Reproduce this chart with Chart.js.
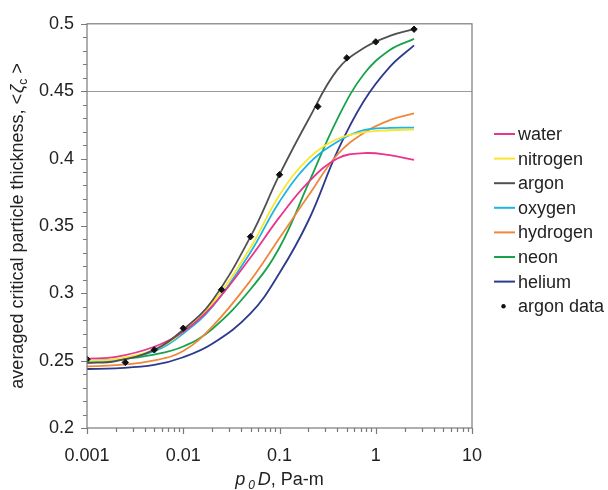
<!DOCTYPE html>
<html>
<head>
<meta charset="utf-8">
<script src="https://cdn.jsdelivr.net/npm/chart.js@4/dist/chart.umd.min.js"></script>
<style>
  body { margin: 0; background: #fff; }
  #wrap { width: 608px; height: 490px; position: relative; }
</style>
</head>
<body>
<div id="wrap"><canvas id="critChart"></canvas></div>
<script>
var xGrid = [0.001, 0.002, 0.005, 0.01, 0.02, 0.05, 0.1, 0.2, 0.4, 0.75, 1.4, 2.5];

var water    = [0.2515, 0.2528, 0.2603, 0.2715, 0.2905, 0.3265, 0.3565, 0.3825, 0.4, 0.404, 0.4025, 0.399];
var nitrogen = [0.250, 0.2512, 0.258, 0.2715, 0.2925, 0.334, 0.373, 0.400, 0.4145, 0.4195, 0.421, 0.4215];
var argon    = [0.2482, 0.2497, 0.258, 0.273, 0.2945, 0.342, 0.388, 0.429, 0.466, 0.482, 0.491, 0.496];
var oxygen   = [0.249, 0.2502, 0.257, 0.2702, 0.2898, 0.3305, 0.368, 0.396, 0.4125, 0.421, 0.4228, 0.423];
var hydrogen = [0.2458, 0.2466, 0.2502, 0.2572, 0.2752, 0.3095, 0.341, 0.3725, 0.403, 0.419, 0.4285, 0.4335];
var neon     = [0.2497, 0.2507, 0.2545, 0.2605, 0.2735, 0.303, 0.334, 0.3815, 0.4295, 0.4625, 0.4805, 0.4888];
var helium   = [0.2438, 0.2443, 0.2468, 0.2525, 0.2625, 0.2850, 0.315, 0.354, 0.4055, 0.4425, 0.468, 0.484];

var argonDataX = [0.001, 0.0025, 0.005, 0.01, 0.025, 0.05, 0.1, 0.25, 0.5, 1, 2.5];
var argonDataY = [0.251, 0.2487, 0.258, 0.274, 0.3027, 0.342, 0.388, 0.4386, 0.4747, 0.4866, 0.496];

var seriesNames  = ['water', 'nitrogen', 'argon', 'oxygen', 'hydrogen', 'neon', 'helium'];
var seriesValues = [water, nitrogen, argon, oxygen, hydrogen, neon, helium];
var seriesColors = ['#e8368c', '#fbe62e', '#505050', '#1db4e6', '#f0883c', '#17a24c', '#2c3a8e'];

var xTickValues = [0.001, 0.01, 0.1, 1, 10];
var xTickLabels = ['0.001', '0.01', '0.1', '1', '10'];
var yTickValues = [0.2, 0.25, 0.3, 0.35, 0.4, 0.45, 0.5];
var yTickLabels = ['0.2', '0.25', '0.3', '0.35', '0.4', '0.45', '0.5'];
var refLevel = 0.45;

var FONT = '"Liberation Sans", Arial, Helvetica, sans-serif';

function toPoints(xs, ys) {
  return xs.map(function(x, i) { return { x: x, y: ys[i] }; });
}

var datasets = seriesNames.map(function(name, i) {
  return {
    label: name,
    data: toPoints(xGrid, seriesValues[i]),
    borderColor: seriesColors[i],
    backgroundColor: seriesColors[i],
    borderWidth: 1.8,
    pointRadius: 0,
    tension: 0.4,
    fill: false,
    order: name === 'argon' ? 1 : 2
  };
});
datasets.push({
  label: 'argon data',
  data: toPoints(argonDataX, argonDataY),
  showLine: false,
  pointStyle: 'rectRot',
  pointRadius: 3.2,
  pointBackgroundColor: '#111',
  pointBorderColor: '#111',
  borderColor: '#111',
  backgroundColor: '#111',
  order: 0
});

var decor = {
  id: 'decor',
  beforeDatasetsDraw: function(chart) {
    var ctx = chart.ctx, a = chart.chartArea, ys = chart.scales.y;
    ctx.save();
    var yr = Math.round(ys.getPixelForValue(refLevel)) + 0.5;
    ctx.strokeStyle = '#9a9a9a';
    ctx.lineWidth = 1.2;
    ctx.beginPath();
    ctx.moveTo(a.left, yr);
    ctx.lineTo(a.right, yr);
    ctx.stroke();
    ctx.restore();
  },
  afterDraw: function(chart) {
    var ctx = chart.ctx, a = chart.chartArea;
    var xs = chart.scales.x, ys = chart.scales.y;
    ctx.save();
    // frame
    ctx.strokeStyle = '#7a7a7a';
    ctx.lineWidth = 1.2;
    ctx.strokeRect(a.left, a.top, a.right - a.left, a.bottom - a.top);

    // tick marks
    ctx.beginPath();
    var d, k, v, p;
    for (d = -3; d < 1; d++) {
      for (k = 1; k <= 9; k++) {
        v = k * Math.pow(10, d);
        p = Math.round(xs.getPixelForValue(v)) + 0.5;
        ctx.moveTo(p, a.bottom);
        ctx.lineTo(p, a.bottom + (k === 1 ? 6 : 4));
      }
    }
    p = Math.round(xs.getPixelForValue(10)) + 0.5;
    ctx.moveTo(p, a.bottom);
    ctx.lineTo(p, a.bottom + 6);
    for (k = 0; k <= 30; k++) {
      v = 0.2 + k * 0.01;
      p = Math.round(ys.getPixelForValue(v)) + 0.5;
      ctx.moveTo(a.left, p);
      ctx.lineTo(a.left - (k % 5 === 0 ? 6 : 4), p);
    }
    ctx.stroke();

    // x title: p0D, Pa-m
    var parts = [
      { t: 'p', f: 'italic 18px ' + FONT, dy: 0, gap: 3 },
      { t: '0', f: 'italic 12px ' + FONT, dy: 4, gap: 3 },
      { t: 'D', f: 'italic 18px ' + FONT, dy: 0, gap: 0 },
      { t: ', Pa-m', f: '18px ' + FONT, dy: 0, gap: 0 }
    ];
    drawParts(ctx, parts, (a.left + a.right) / 2, 485);

    // y title, rotated
    ctx.save();
    ctx.translate(23, (a.top + a.bottom) / 2);
    ctx.rotate(-Math.PI / 2);
    var yparts = [
      { t: 'averaged critical particle thickness, <', f: '18px ' + FONT, dy: 0, gap: 1 },
      { t: '\u03B6', f: 'italic 18px ' + FONT, dy: 0, gap: 0 },
      { t: 'c', f: '12px ' + FONT, dy: 4, gap: 0 },
      { t: ' >', f: '18px ' + FONT, dy: 0, gap: 0 }
    ];
    drawParts(ctx, yparts, 0, 0);
    ctx.restore();

    // legend
    var lx = 494, ly = 134, step = 24.6;
    ctx.font = '18px ' + FONT;
    ctx.textBaseline = 'middle';
    ctx.textAlign = 'left';
    chart.data.datasets.forEach(function(ds, i) {
      var yy = ly + i * step;
      if (ds.showLine === false) {
        ctx.fillStyle = ds.pointBackgroundColor;
        ctx.beginPath();
        ctx.arc(lx + 9.5, yy, 2.2, 0, Math.PI * 2);
        ctx.fill();
      } else {
        ctx.strokeStyle = ds.borderColor;
        ctx.lineWidth = 2;
        ctx.beginPath();
        ctx.moveTo(lx, yy);
        ctx.lineTo(lx + 21, yy);
        ctx.stroke();
      }
      ctx.fillStyle = '#222';
      ctx.fillText(ds.label, lx + 24, yy + 1);
    });
    ctx.restore();
  }
};

function drawParts(ctx, parts, cx, baseY) {
  var total = 0;
  parts.forEach(function(pt) {
    ctx.font = pt.f;
    pt.w = ctx.measureText(pt.t).width;
    total += pt.w + pt.gap;
  });
  var x = cx - total / 2;
  ctx.fillStyle = '#222';
  ctx.textBaseline = 'alphabetic';
  ctx.textAlign = 'left';
  parts.forEach(function(pt) {
    ctx.font = pt.f;
    ctx.fillText(pt.t, x, baseY + pt.dy);
    x += pt.w + pt.gap;
  });
}

var ctx = document.getElementById('critChart').getContext('2d');
var chart = new Chart(ctx, {
  type: 'line',
  data: { datasets: datasets },
  options: {
    responsive: true,
    maintainAspectRatio: false,
    animation: false,
    layout: { padding: { left: 39, right: 136, top: 22, bottom: 22 } },
    plugins: {
      legend: { display: false },
      tooltip: { enabled: false }
    },
    scales: {
      x: {
        type: 'logarithmic',
        min: 0.001,
        max: 10,
        afterBuildTicks: function(s) { s.ticks = xTickValues.map(function(v) { return { value: v }; }); },
        afterFit: function(s) { s.height = 40; },
        ticks: {
          autoSkip: false,
          maxRotation: 0,
          padding: 17,
          color: '#222',
          font: { family: FONT, size: 18 },
          callback: function(v, i) { return xTickLabels[i]; }
        },
        grid: { display: false, drawTicks: false },
        border: { display: false }
      },
      y: {
        type: 'linear',
        min: 0.2,
        max: 0.5,
        afterBuildTicks: function(s) { s.ticks = yTickValues.map(function(v) { return { value: v }; }); },
        afterFit: function(s) { s.width = 48; },
        ticks: {
          autoSkip: false,
          padding: 13,
          color: '#222',
          font: { family: FONT, size: 18 },
          callback: function(v, i) { return yTickLabels[i]; }
        },
        grid: { display: false, drawTicks: false },
        border: { display: false }
      }
    }
  },
  plugins: [decor]
});
</script>
</body>
</html>
